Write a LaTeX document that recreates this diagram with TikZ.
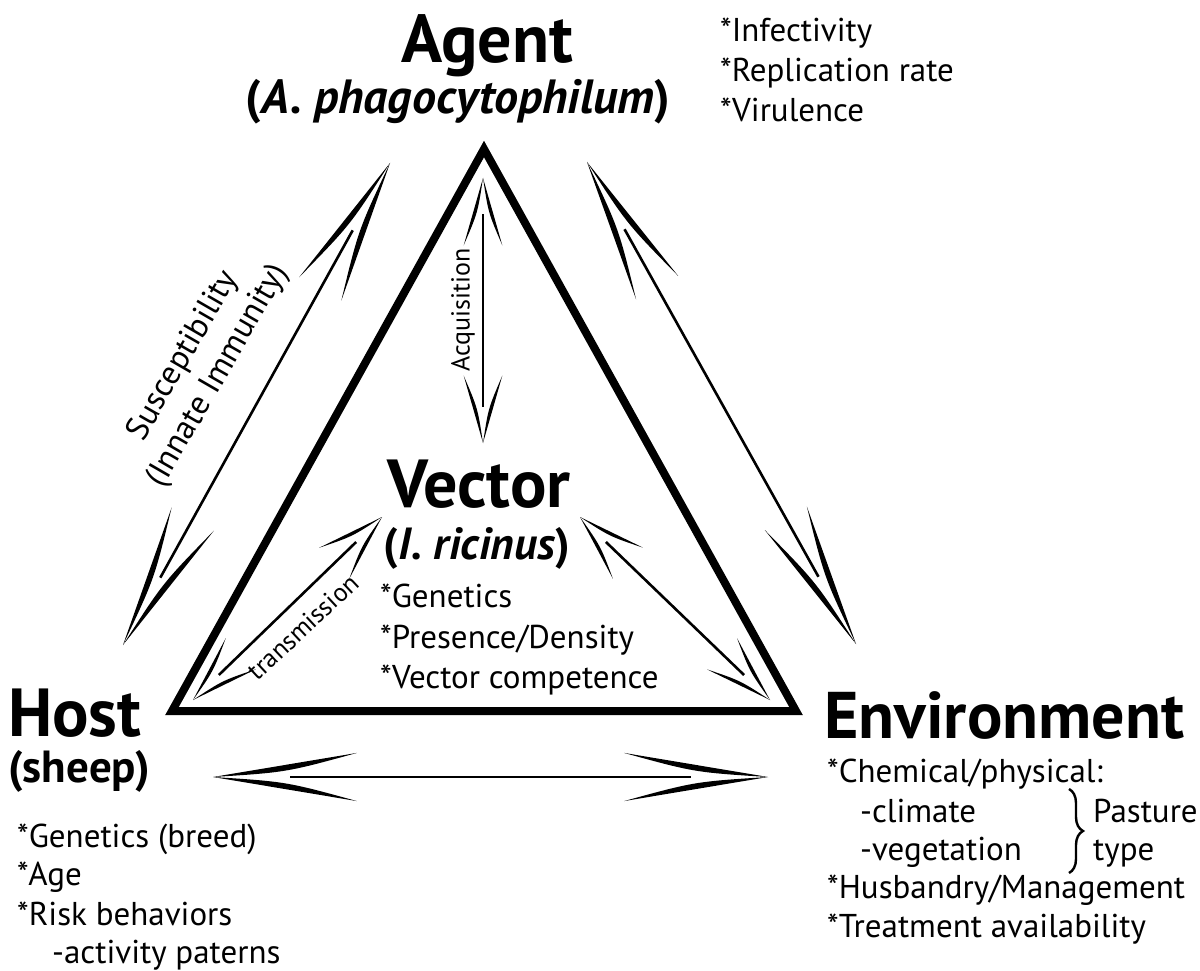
\documentclass[tikz,border=0pt]{standalone}
\usepackage{fontspec}
\setmainfont{PT Sans}
\usetikzlibrary{calc,decorations.pathreplacing}

% one swoosh head: tip, toward, length, angle, offset1, offset2
\newcommand\swhead[6]{%
  \coordinate (hA) at ($(#1)!#3!#4:(#2)$);
  \coordinate (hB) at ($(#1)!#3!-#4:(#2)$);
  \coordinate (hMa) at ($(#1)!0.5!(hA)$);
  \coordinate (hMb) at ($(#1)!0.5!(hB)$);
  \fill (#1) .. controls ($(hMa)!#5!90:(hA)$) .. (hA)
        .. controls ($(hMa)!#6!90:(hA)$) .. (#1) -- cycle;
  \fill (#1) .. controls ($(hMb)!#5!-90:(hB)$) .. (hB)
        .. controls ($(hMb)!#6!-90:(hB)$) .. (#1) -- cycle;
}
% double swoosh arrow: A, B, head length, angle, shaft gap, offset1, offset2
\newcommand\swooshpair[7]{%
  \draw[shaft] ($(#1)!#5!(#2)$) -- ($(#2)!#5!(#1)$);
  \swhead{#1}{#2}{#3}{#4}{#6}{#7}
  \swhead{#2}{#1}{#3}{#4}{#6}{#7}
}

\begin{document}
\begin{tikzpicture}[x=1pt,y=-1pt,
  shaft/.style={line width=2.6pt},
  title/.style={font=\bfseries\fontsize{68}{68}\selectfont, inner sep=0pt},
  sub/.style={font=\bfseries\fontsize{45}{45}\selectfont, inner sep=0pt},
  item/.style={font=\fontsize{33}{40}\selectfont, inner sep=0pt, anchor=base west},
  lab/.style={font=\fontsize{26}{26}\selectfont, inner sep=0pt}]
\useasboundingbox (0,0) rectangle (1200,971);

% triangle
\coordinate (tA) at (484,149);
\coordinate (tH) at (172,711);
\coordinate (tE) at (796,711);
\draw[line width=8pt, line join=miter] (tA) -- (tE) -- (tH) -- cycle;

% titles
\node[title, anchor=base] (agent) at (487,63) {Agent};
\node[sub, anchor=base, font=\bfseries\fontsize{48}{48}\selectfont] (agentsp) at (458,114) {(\textit{A. phagocytophilum})};
\node[item] (ag1) at (720,42) {*Infectivity};
\node[item] (ag2) at (720,82) {*Replication rate};
\node[item] (ag3) at (720,122) {*Virulence};

\node[title, anchor=base] (vector) at (479,507) {Vector};
\node[sub, anchor=base] (vectorsp) at (477,559) {(\textit{I. ricinus})};
\node[item] (ve1) at (380,607) {*Genetics};
\node[item] (ve2) at (380,648) {*Presence/Density};
\node[item] (ve3) at (380,688) {*Vector competence};

\node[title, anchor=base west] (host) at (8,736) {Host};
\node[sub, anchor=base west] (hostsp) at (8,782) {(sheep)};
\node[item] (ho1) at (17,847) {*Genetics (breed)};
\node[item] (ho2) at (17,885) {*Age};
\node[item] (ho3) at (17,925) {*Risk behaviors};
\node[item] (ho4) at (52,963) {-activity paterns};

\node[title, anchor=base west, font=\bfseries\fontsize{66}{66}\selectfont] (env) at (824,738) {Environment};
\node[item] (en1) at (827,782) {*Chemical/physical:};
\node[item] (en2) at (860,822) {-climate};
\node[item] (en3) at (860,860) {-vegetation};
\node[item] (en4) at (827,898) {*Husbandry/Management};
\node[item] (en5) at (827,937) {*Treatment availability};
\node[item] (en6) at (1093,822) {Pasture};
\node[item] (en7) at (1093,860) {type};
\coordinate (brT) at (1069,789);
\coordinate (brB) at (1069,873);
\draw[line width=2.4pt, decorate, decoration={brace, amplitude=14pt}] (brT) -- (brB);

% arrow end points
\coordinate (lA) at (390,163);  \coordinate (lH) at (123,645);
\coordinate (rA) at (587,162);  \coordinate (rE) at (856,644);
\coordinate (qA) at (483,178);  \coordinate (qV) at (483,443);
\coordinate (sV) at (382,517);  \coordinate (sH) at (193,700);
\coordinate (vV) at (580,517);  \coordinate (vE) at (770,700);
\coordinate (bH) at (213,777);  \coordinate (bE) at (768,777);

\swooshpair{lA}{lH}{146pt}{9.5}{77pt}{-1pt}{-7.5pt}
\swooshpair{rA}{rE}{146pt}{9.5}{77pt}{-1pt}{-7.5pt}
\swooshpair{bH}{bE}{146pt}{9.5}{77pt}{-1pt}{-7.5pt}
\swooshpair{qA}{qV}{70pt}{16}{36pt}{0pt}{-4.5pt}
\swooshpair{sV}{sH}{70pt}{18}{36pt}{0pt}{-4.5pt}
\swooshpair{vV}{vE}{70pt}{18}{36pt}{0pt}{-4.5pt}

% connector labels
\node[lab, rotate=90] (acq) at (463,310) {Acquisition};
\node[lab, rotate=43] (trans) at (303,627) {transmission};
\node[font=\fontsize{33}{40}\selectfont, align=center, rotate=60, inner sep=0pt] (susc) at (201,366) {Susceptibility\\(Innate Immunity)};
\end{tikzpicture}
\end{document}
